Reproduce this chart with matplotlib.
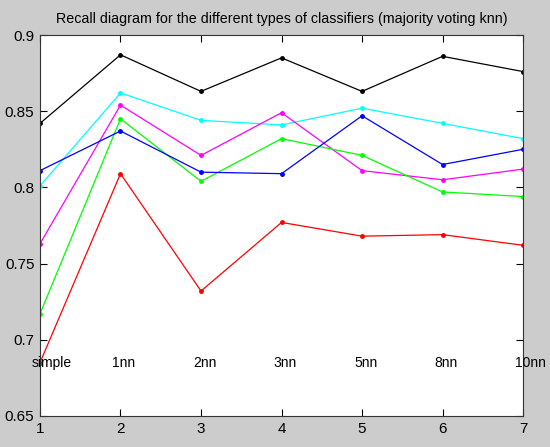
import matplotlib
matplotlib.use("Agg")
import matplotlib.pyplot as plt
from matplotlib.ticker import FuncFormatter

# DATOS
x = [1, 2, 3, 4, 5, 6, 7]
etiquetas = ["simple", "1nn", "2nn", "3nn", "5nn", "8nn", "10nn"]

negro = [0.842, 0.887, 0.863, 0.885, 0.863, 0.886, 0.876]
cian = [0.801, 0.862, 0.844, 0.841, 0.852, 0.842, 0.832]
magenta = [0.763, 0.854, 0.821, 0.849, 0.811, 0.805, 0.812]
verde = [0.717, 0.845, 0.804, 0.832, 0.821, 0.797, 0.794]
azul = [0.811, 0.837, 0.810, 0.809, 0.847, 0.815, 0.825]
rojo = [0.685, 0.809, 0.732, 0.777, 0.768, 0.769, 0.762]

series = [
    (negro, "k"),
    (cian, "#00ffff"),
    (magenta, "#ff00ff"),
    (verde, "#00ff00"),
    (azul, "#0000ff"),
    (rojo, "#ff0000"),
]

plt.rcParams['font.family'] = ['Liberation Sans', 'DejaVu Sans']

fig = plt.figure(figsize=(5.5, 4.47), dpi=100, facecolor="#cccccc")
ax = fig.add_axes([0.0727, 0.0694, 0.8783, 0.8523])

for valores, color in series:
    ax.plot(x, valores, color=color, linewidth=0.9, marker=".", markersize=5)

# etiquetas de los clasificadores dentro del grafico
for xi, et in zip(x, etiquetas):
    ax.text(xi - 0.1, 0.685, et, fontsize=10, ha="left", va="center")

ax.set_xlim(1, 7)
ax.set_ylim(0.65, 0.9)
ax.set_xticks(x)
ax.set_yticks([0.65, 0.7, 0.75, 0.8, 0.85, 0.9])
ax.yaxis.set_major_formatter(FuncFormatter(lambda v, p: f"{v:g}"))
ax.tick_params(direction="in", top=True, right=True, length=5, labelsize=11, pad=4)
for s in ax.spines.values():
    s.set_linewidth(0.8)
    s.set_color("#333333")

ax.set_title("Recall diagram for the different types of classifiers (majority voting knn)",
             fontsize=10.3, pad=9)

plt.savefig("out.png", dpi=100, facecolor=fig.get_facecolor())
